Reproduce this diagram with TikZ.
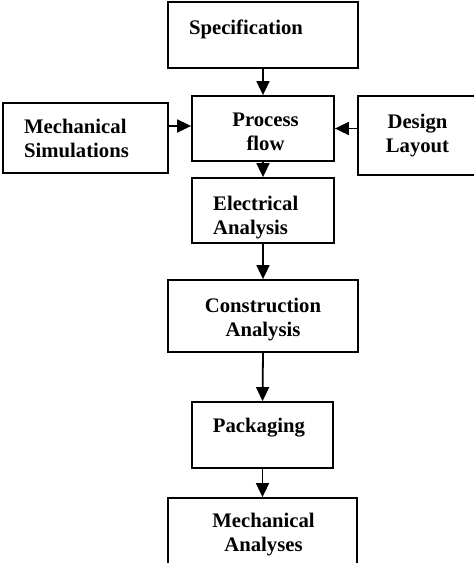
\documentclass[tikz,border=0pt]{standalone}
\usepackage{fontspec}
\setmainfont{Liberation Serif}
\usetikzlibrary{arrows, arrows.meta, positioning, calc}

\begin{document}
\begin{tikzpicture}[x=1pt, y=-1pt,
    box/.style={draw, line width=1.8pt, inner sep=0pt},
    txt/.style={font=\fontsize{20.7}{24}\selectfont\bfseries, inner sep=0pt},
    arr/.style={line width=1.8pt, -{Triangle[width=13pt, length=14pt]}}]
      \useasboundingbox (0,0) rectangle (474,563);

      % Boxes
      \node[box, minimum width=190, minimum height=66] (spec) at (263,35) {};
      \node[box, minimum width=142, minimum height=65] (proc) at (263,128.5) {};
      \node[box, minimum width=165, minimum height=70] (msim) at (85.5,138) {};
      \node[box, minimum width=120, minimum height=79] (dlay) at (418,135.5) {};
      \node[box, minimum width=142, minimum height=65] (elec) at (263,210.5) {};
      \node[box, minimum width=190, minimum height=72] (cons) at (263,316) {};
      \node[box, minimum width=141, minimum height=66] (pack) at (262.5,435) {};
      \node[box, minimum width=189, minimum height=77] (mana) at (262.5,536.5) {};

      % Labels (base = last line)
      \node[txt, anchor=base] (spectxt) at (246,34) {Specification};
      \node[txt, anchor=base, align=center] (proctxt) at (265.5,150) {Process\\flow};
      \node[txt, anchor=base west, align=left] (msimtxt) at (24,157) {Mechanical\\Simulations};
      \node[txt, anchor=base, align=center] (dlaytxt) at (417.5,152) {Design\\Layout};
      \node[txt, anchor=base west, align=left] (electxt) at (213,234) {Electrical\\Analysis};
      \node[txt, anchor=base, align=center] (constxt) at (263,336) {Construction\\Analysis};
      \node[txt, anchor=base] (packtxt) at (259,432) {Packaging};
      \node[txt, anchor=base, align=center] (manatxt) at (263.5,551) {Mechanical\\Analyses};

      % Main flow
      \foreach \a/\b in {spec/proc, proc/elec, elec/cons, cons/pack, pack/mana} {
          \draw[arr] (\a.south) -- (\b.north);
      }

      % Side inputs
      \coordinate (msimout) at ([yshift=12pt]msim.east);
      \draw[arr] (msimout) -- (msimout -| proc.west);
      \draw[arr] (proc.east -| dlay.west) -- (proc.east);
    \end{tikzpicture}
\end{document}
